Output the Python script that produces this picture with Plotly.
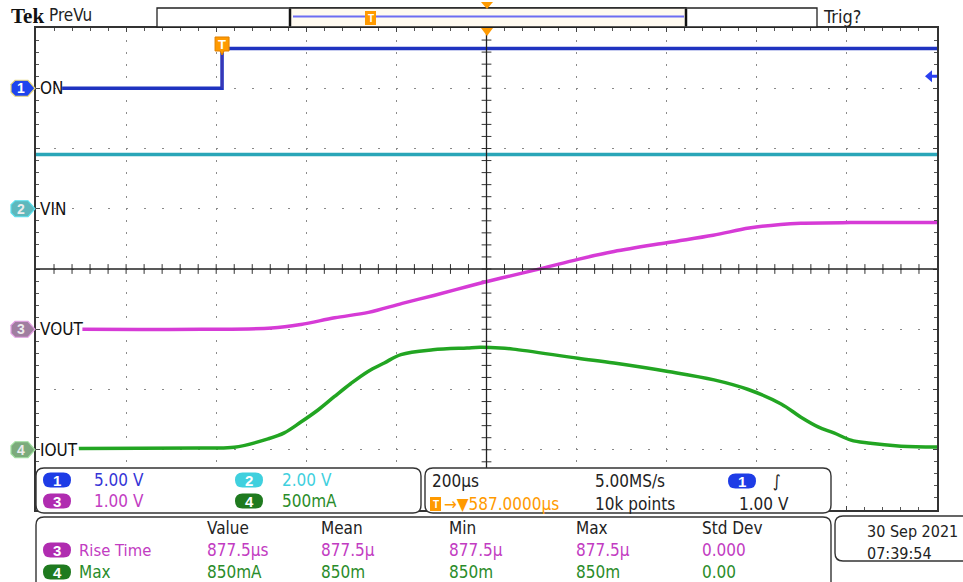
import plotly.graph_objects as go

# ---------------- acquisition data ----------------
# time in microseconds relative to the trigger point
on_t = [-355, 0, 0, 1587]
on_v = [0.0, 0.0, 3.3, 3.3]

vin_t = [-413, 1587]
vin_v = [1.8, 1.8]

vout_t = [-310, -45, 110, 175, 250, 325, 400, 470, 545, 620, 710, 790,
          870, 990, 1090, 1170, 1240, 1285, 1395, 1587]
vout_v = [0.0, 0.0, 0.02, 0.08, 0.19, 0.28, 0.43, 0.56, 0.71, 0.85, 1.01,
          1.16, 1.29, 1.44, 1.56, 1.68, 1.74, 1.76, 1.77, 1.77]

iout_t = [-318, -47, 27, 102, 138, 175, 213, 249, 286, 324, 360, 397, 468,
          544, 573, 617, 646, 790, 870, 990, 1092, 1168, 1241, 1285, 1323,
          1358, 1396, 1434, 1507, 1587]
iout_a = [0.01, 0.015, 0.02, 0.09, 0.14, 0.23, 0.33, 0.44, 0.55, 0.65, 0.72,
          0.79, 0.83, 0.845, 0.85, 0.845, 0.835, 0.76, 0.72, 0.65, 0.58, 0.50,
          0.38, 0.27, 0.19, 0.14, 0.08, 0.056, 0.03, 0.023]

# channel settings: name, label, volts(amps)/div, offset in divisions
channels = ["1", "2", "3", "4"]
labels = ["ON", "VIN", "VOUT", "IOUT"]
scales = [5.0, 2.0, 1.0, 0.5]
offsets = [3, 1, -1, -3]
scale_text = ["5.00 V", "2.00 V", "1.00 V", "500mA"]

time_per_div = 200.0
horiz_pos = 587.0
trig_level = 1.0

meas_headers = ["Value", "Mean", "Min", "Max", "Std Dev"]
meas_rise = ["877.5µs", "877.5µ", "877.5µ", "877.5µ", "0.000"]
meas_max = ["850mA", "850m", "850m", "850m", "0.00"]

# ---------------- styling ----------------
trace_col = ["#1f33c0", "#2aa6b8", "#d63bd6", "#22a522"]
text_col = ["#3434d6", "#3fd0de", "#c23cc2", "#2a8c2a"]
pill_col = ["#1e3ce6", "#3fd0de", "#b02cb0", "#1f7a1f"]
mark_fill = ["#1e44ee", "#5eb8bc", "#a07ea0", "#7cab7c"]
mark_edge = ["#e8d87a", "#58e0ee", "#e4a0e4", "#9fe09f"]
orange = "#ff9a00"

W, H = 963, 582
L, R, T, B = 36, 937, 28, 510
NARROW = "DejaVu Sans Condensed, Roboto, sans-serif"


def X(px):
    return (px - L) / (R - L)


def Y(py):
    return (B - py) / (B - T)


def rrect(x0, y0, x1, y1, r):
    pts = [("M", x0 + r, y0), ("L", x1 - r, y0), ("Q", x1, y0, x1, y0 + r),
           ("L", x1, y1 - r), ("Q", x1, y1, x1 - r, y1), ("L", x0 + r, y1),
           ("Q", x0, y1, x0, y1 - r), ("L", x0, y0 + r), ("Q", x0, y0, x0 + r, y0)]
    s = ""
    for p in pts:
        if p[0] == "Q":
            s += f"Q{X(p[1]):.5f},{Y(p[2]):.5f} {X(p[3]):.5f},{Y(p[4]):.5f} "
        else:
            s += f"{p[0]}{X(p[1]):.5f},{Y(p[2]):.5f} "
    return s + "Z"


def poly(points):
    s = "M" + " L".join(f"{X(a):.5f},{Y(b):.5f}" for a, b in points)
    return s + " Z"


ann = []


def label(px, py, s, color="#222", size=17, family=NARROW, anchor="left"):
    ann.append(dict(x=X(px), y=Y(py), xref="paper", yref="paper", text=s,
                    xanchor=anchor, yanchor="middle", showarrow=False,
                    font=dict(family=family, size=size, color=color)))


t0 = horiz_pos - 5 * time_per_div
t1 = horiz_pos + 5 * time_per_div

fig = go.Figure()

# centre graticule tick marks (every minor division)
minor_x = [t0 + k * time_per_div / 5 for k in range(1, 50)]
minor_y = [-4 + k * 0.2 for k in range(1, 40)]
fig.add_trace(go.Scatter(x=minor_x, y=[0] * len(minor_x), mode="markers",
                         marker=dict(symbol="line-ns", size=7, line=dict(width=1, color="#333")),
                         hoverinfo="skip", showlegend=False))
fig.add_trace(go.Scatter(x=[horiz_pos] * len(minor_y), y=minor_y, mode="markers",
                         marker=dict(symbol="line-ew", size=7, line=dict(width=1, color="#333")),
                         hoverinfo="skip", showlegend=False))

# waveforms, converted to screen divisions
series = [(on_t, on_v), (vin_t, vin_v), (vout_t, vout_v), (iout_t, iout_a)]
for i, (tt, vv) in enumerate(series):
    yy = [v / scales[i] + offsets[i] for v in vv]
    smooth = i >= 2
    fig.add_trace(go.Scatter(
        x=tt, y=yy, mode="lines",
        line=dict(color=trace_col[i], width=3.5,
                  shape="spline" if smooth else "linear",
                  smoothing=1.0 if smooth else None),
        hoverinfo="skip", showlegend=False))
# thin vertical edge of the ON step
fig.add_trace(go.Scatter(x=[on_t[1], on_t[2]],
                         y=[on_v[1] / scales[0] + offsets[0], on_v[2] / scales[0] + offsets[0]],
                         mode="lines", line=dict(color="#4a3ab0", width=1.2),
                         hoverinfo="skip", showlegend=False))

shapes = []

# solid centre cross-hair
shapes.append(dict(type="line", xref="x", yref="y", x0=t0, x1=t1, y0=0, y1=0,
                   line=dict(color="#222", width=1.3), layer="above"))
shapes.append(dict(type="line", xref="x", yref="y", x0=horiz_pos, x1=horiz_pos, y0=-4, y1=4,
                   line=dict(color="#222", width=1.3), layer="above"))

# channel ground markers and labels
for i in range(4):
    cy = 269 - offsets[i] * (B - T) / 8
    shapes.append(dict(type="path", xref="paper", yref="paper",
                       path=poly([(15, cy - 8), (28, cy - 8), (35, cy), (28, cy + 8),
                                  (15, cy + 8), (11, cy + 4), (11, cy - 4)]),
                       fillcolor=mark_fill[i], line=dict(color=mark_edge[i], width=1.2)))
    label(21, cy, f"<b>{channels[i]}</b>", "white" if i == 0 else "#ececec", 14,
          "Liberation Sans", "center")
    label(38, cy, labels[i], "#111", 17)

# trigger level arrow at the right edge (ch 1)
ty = 269 - (offsets[0] + trig_level / scales[0]) * (B - T) / 8
shapes.append(dict(type="path", xref="paper", yref="paper",
                   path=poly([(925, ty), (932, ty - 6), (932, ty - 1.5), (937, ty - 1.5),
                              (937, ty + 1.5), (932, ty + 1.5), (932, ty + 6)]),
                   fillcolor="#2a40f0", line=dict(width=0)))

# trigger "T" marker on the graticule
tx = L + (0 - t0) / (t1 - t0) * (R - L)
shapes.append(dict(type="path", xref="paper", yref="paper",
                   path=poly([(tx - 7, 37), (tx + 7, 37), (tx + 7, 51), (tx + 2, 51),
                              (tx, 55), (tx - 2, 51), (tx - 7, 51)]),
                   fillcolor=orange, line=dict(color="#e08000", width=1), layer="above"))
label(tx, 44, "<b>T</b>", "white", 13, "Liberation Sans", "center")
# horizontal position marker
shapes.append(dict(type="path", xref="paper", yref="paper",
                   path=poly([(481, 28), (493, 28), (487, 36)]),
                   fillcolor=orange, line=dict(width=0), layer="above"))

# ---------------- record view bar ----------------
shapes.append(dict(type="rect", xref="paper", yref="paper", x0=X(157), x1=X(817),
                   y0=Y(27), y1=Y(8), fillcolor="white", line=dict(color="#222", width=1.3)))
shapes.append(dict(type="rect", xref="paper", yref="paper", x0=X(290), x1=X(686),
                   y0=Y(27), y1=Y(8), fillcolor="#fffaf0", line=dict(color="#222", width=1.3)))
shapes.append(dict(type="line", xref="paper", yref="paper", x0=X(293), x1=X(684),
                   y0=Y(16.5), y1=Y(16.5), line=dict(color="#6d6df2", width=2)))
for bx in (290, 686):
    shapes.append(dict(type="line", xref="paper", yref="paper", x0=X(bx), x1=X(bx),
                       y0=Y(26), y1=Y(9), line=dict(color="#111", width=2.5)))
shapes.append(dict(type="rect", xref="paper", yref="paper", x0=X(365), x1=X(376),
                   y0=Y(25), y1=Y(11), fillcolor=orange, line=dict(width=0)))
label(370.5, 18, "<b>T</b>", "white", 10, "Liberation Sans", "center")
shapes.append(dict(type="path", xref="paper", yref="paper",
                   path=poly([(481, 2), (493, 2), (487, 9)]),
                   fillcolor=orange, line=dict(width=0)))
label(9, 16, "<b>Tek</b>", "#111", 21, "Liberation Serif")
label(47, 15, "PreVu", "#222", 17)
label(821, 16, "Trig?", "#222", 18)

# ---------------- readout panels ----------------
panel_line = dict(color="#333", width=1.4)
shapes.append(dict(type="path", xref="paper", yref="paper", path=rrect(36, 468, 421, 513, 8),
                   fillcolor="white", line=panel_line, layer="above"))
shapes.append(dict(type="path", xref="paper", yref="paper", path=rrect(425, 468, 831, 513, 8),
                   fillcolor="white", line=panel_line, layer="above"))
shapes.append(dict(type="path", xref="paper", yref="paper", path=rrect(36, 517, 831, 600, 8),
                   fillcolor="white", line=panel_line, layer="above"))
shapes.append(dict(type="path", xref="paper", yref="paper", path=rrect(835, 516, 980, 561, 8),
                   fillcolor="white", line=panel_line, layer="above"))


def pill(cx, cy, num, color):
    shapes.append(dict(type="path", xref="paper", yref="paper",
                       path=rrect(cx - 14, cy - 7.5, cx + 14, cy + 7.5, 7.5),
                       fillcolor=color, line=dict(width=0), layer="above"))
    label(cx, cy, f"<b>{num}</b>", "white", 15, "Liberation Sans", "center")


# vertical settings
pos = [(57, 480, 92), (249, 480, 280), (57, 501, 92), (249, 501, 280)]
for i in range(4):
    cx, cy, tx_ = pos[i]
    pill(cx, cy, channels[i], pill_col[i])
    label(tx_, cy, scale_text[i], text_col[i])

# horizontal / trigger settings
label(430, 481, f"{time_per_div:.0f}µs")
label(593, 481, "5.00MS/s")
pill(742, 481, "1", pill_col[0])
label(771, 481, "∫", "#222", 17)
shapes.append(dict(type="rect", xref="paper", yref="paper", x0=X(430), x1=X(441),
                   y0=Y(511), y1=Y(497), fillcolor=orange, line=dict(width=0), layer="above"))
label(435.5, 504, "<b>T</b>", "white", 10, "Liberation Sans", "center")
label(442, 504, f"→▼{horiz_pos:.4f}µs", orange)
label(593, 504, "10k points")
label(737, 504, f"{trig_level:.2f} V")

# measurements
cols = [205, 319, 447, 574, 700]
for c, h in zip(cols, meas_headers):
    label(c, 528, h)
pill(57, 550, "3", pill_col[2])
label(77, 550, "Rise Time", text_col[2], 16.5)
pill(57, 572, "4", pill_col[3])
label(77, 572, "Max", text_col[3])
for c, a, b in zip(cols, meas_rise, meas_max):
    label(c, 550, a, text_col[2])
    label(c, 572, b, text_col[3])

# date / time
label(865, 531, "30 Sep 2021", "#222", 16)
label(865, 553, "07:39:54", "#222", 16)

axis_common = dict(showline=True, mirror="ticks", linecolor="#333", linewidth=1.5,
                   ticks="inside", ticklen=4, tickcolor="#444", showticklabels=False,
                   zeroline=False, gridcolor="#8a8a8a", gridwidth=1, fixedrange=True)

fig.update_layout(
    width=W, height=H,
    margin=dict(l=L, r=W - R, t=T, b=H - B),
    paper_bgcolor="white", plot_bgcolor="white",
    xaxis=dict(range=[t0, t1], tick0=horiz_pos, dtick=time_per_div, griddash="2px,10px",
               minor=dict(dtick=time_per_div / 5, tick0=horiz_pos, ticks="inside", ticklen=3,
                          tickcolor="#555", showgrid=False),
               **axis_common),
    yaxis=dict(range=[-4, 4], tick0=0, dtick=1, griddash="2px,16px",
               minor=dict(dtick=0.2, tick0=0, ticks="inside", ticklen=3,
                          tickcolor="#555", showgrid=False),
               **axis_common),
    shapes=shapes,
    annotations=ann,
    showlegend=False,
)

fig.write_html("out.html")
